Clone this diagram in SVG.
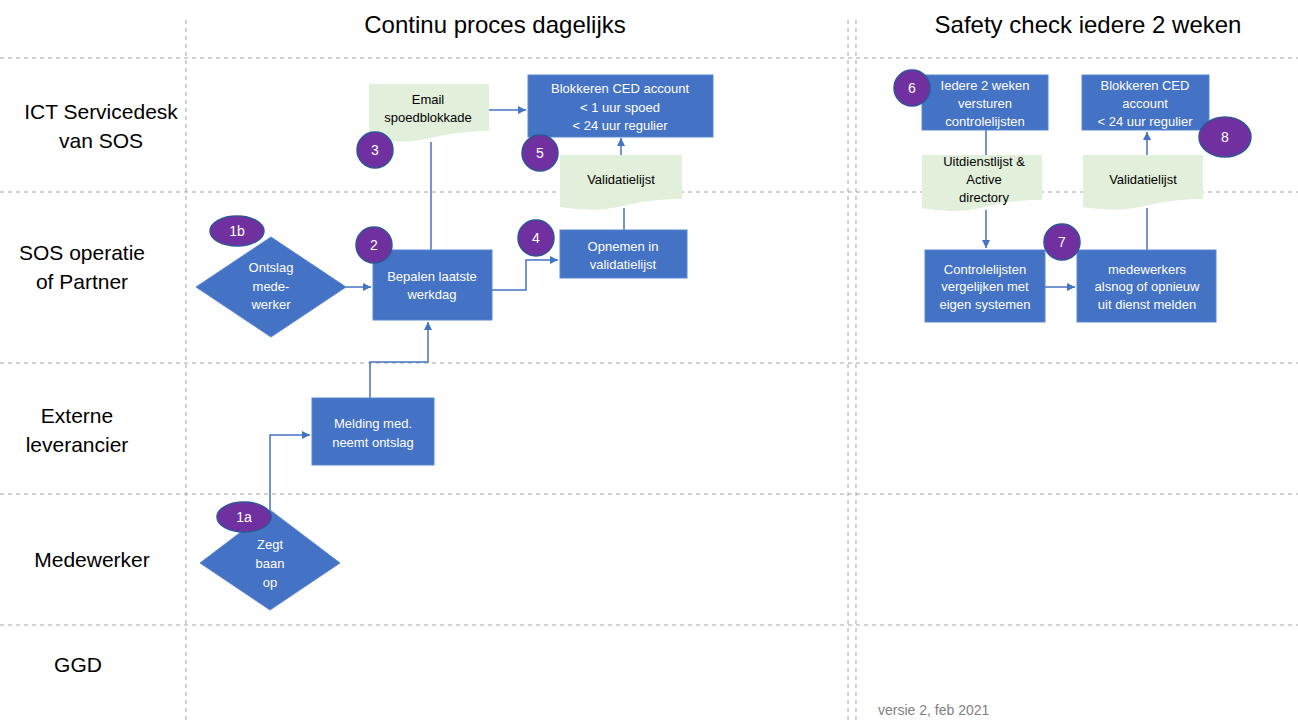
<svg xmlns="http://www.w3.org/2000/svg" width="1298" height="720" viewBox="0 0 1298 720">
<defs>
<marker id="ah" viewBox="0 0 10 10" refX="10" refY="5" markerWidth="8" markerHeight="8" markerUnits="userSpaceOnUse" orient="auto"><path d="M0,0 L10,5 L0,10 Z" fill="#4472c4"/></marker>
<style>
.grid{stroke:#a6a6a6;stroke-width:1;stroke-dasharray:4 4;fill:none}
.box{fill:#4472c4;stroke:#5b87d3;stroke-width:1}
.doc{fill:#e2efda;stroke:none}
.badge{fill:#7030a0;stroke:#2f5597;stroke-width:1.5}
.conn{stroke:#4472c4;stroke-width:1.5;fill:none}
.wt{font-family:"Liberation Sans",Arial,sans-serif;font-size:13px;fill:#fff;text-anchor:middle}
.bt{font-family:"Liberation Sans",Arial,sans-serif;font-size:13px;fill:#000;text-anchor:middle}
.lane{font-family:"Liberation Sans",Arial,sans-serif;font-size:21px;fill:#000;text-anchor:middle}
.title{font-family:"Liberation Sans",Arial,sans-serif;font-size:24px;fill:#000;text-anchor:middle}
.num{font-family:"Liberation Sans",Arial,sans-serif;font-size:14px;fill:#fff;text-anchor:middle}
</style>
</defs>
<rect width="1298" height="720" fill="#fff"/>
<g id="grid">
<line class="grid" x1="0" y1="58" x2="1298" y2="58"/>
<line class="grid" x1="0" y1="192" x2="1298" y2="192"/>
<line class="grid" x1="0" y1="363" x2="1298" y2="363"/>
<line class="grid" x1="0" y1="494" x2="1298" y2="494"/>
<line class="grid" x1="0" y1="625" x2="1298" y2="625"/>
<line class="grid" x1="186" y1="20" x2="186" y2="720"/>
<line class="grid" x1="848" y1="20" x2="848" y2="720"/>
<line class="grid" x1="856" y1="20" x2="856" y2="720"/>
</g>
<g id="titles">
<text class="title" x="495" y="33">Continu proces dagelijks</text>
<text class="title" x="1088" y="33">Safety check iedere 2 weken</text>
</g>
<g id="lanes">
<text class="lane" x="101" y="119">ICT Servicedesk</text>
<text class="lane" x="101" y="148">van SOS</text>
<text class="lane" x="82" y="260">SOS operatie</text>
<text class="lane" x="82" y="289">of Partner</text>
<text class="lane" x="77" y="423">Externe</text>
<text class="lane" x="77" y="452">leverancier</text>
<text class="lane" x="92" y="567">Medewerker</text>
<text class="lane" x="78" y="672">GGD</text>
</g>
<g id="connectors">
<line class="conn" x1="489" y1="110" x2="526" y2="110" marker-end="url(#ah)"/>
<line class="conn" x1="621" y1="157" x2="621" y2="138" marker-end="url(#ah)"/>
<line class="conn" x1="624" y1="208" x2="624" y2="230"/>
<line class="conn" x1="431" y1="250" x2="431" y2="142"/>
<polyline class="conn" points="492,290 526,290 526,260 558,260" marker-end="url(#ah)"/>
<line class="conn" x1="346" y1="287" x2="371" y2="287" marker-end="url(#ah)"/>
<polyline class="conn" points="370,398 370,362 428,362 428,322" marker-end="url(#ah)"/>
<polyline class="conn" points="270,512 270,435 310,435" marker-end="url(#ah)"/>
<line class="conn" x1="986" y1="130" x2="986" y2="157"/>
<line class="conn" x1="986" y1="210" x2="986" y2="248" marker-end="url(#ah)"/>
<line class="conn" x1="1045" y1="287" x2="1075" y2="287" marker-end="url(#ah)"/>
<line class="conn" x1="1147" y1="250" x2="1147" y2="208"/>
<line class="conn" x1="1147" y1="157" x2="1147" y2="132" marker-end="url(#ah)"/>
</g>
<g id="email">
<path class="doc" d="M369,84 H489 V131 C429,131 429,148 369,139 Z"/>
<text class="bt" x="428" y="104">Email</text>
<text class="bt" x="428" y="122">spoedblokkade</text>
</g>
<g id="blok1">
<rect class="box" x="528" y="75" width="185" height="62"/>
<text class="wt" x="620" y="93">Blokkeren CED account</text>
<text class="wt" x="620" y="112">&lt; 1 uur spoed</text>
<text class="wt" x="620" y="130">&lt; 24 uur regulier</text>
</g>
<g id="valid1">
<path class="doc" d="M560,155 H682 V199 C621,199 621,216 560,207 Z"/>
<text class="bt" x="621" y="184">Validatielijst</text>
</g>
<g id="opnemen">
<rect class="box" x="560" y="230" width="127" height="48"/>
<text class="wt" x="623" y="251">Opnemen in</text>
<text class="wt" x="623" y="269">validatielijst</text>
</g>
<g id="bepalen">
<rect class="box" x="373" y="250" width="119" height="70"/>
<text class="wt" x="432" y="281">Bepalen laatste</text>
<text class="wt" x="432" y="299">werkdag</text>
</g>
<g id="ontslag">
<polygon class="box" points="271,237 346,287 271,337 196,287"/>
<text class="wt" x="271" y="272">Ontslag</text>
<text class="wt" x="271" y="291">mede-</text>
<text class="wt" x="271" y="309">werker</text>
</g>
<g id="melding">
<rect class="box" x="312" y="398" width="122" height="67"/>
<text class="wt" x="373" y="428">Melding med.</text>
<text class="wt" x="373" y="447">neemt ontslag</text>
</g>
<g id="zegt">
<polygon class="box" points="270,510 340,563 270,610 200,563"/>
<text class="wt" x="270" y="549">Zegt</text>
<text class="wt" x="270" y="568">baan</text>
<text class="wt" x="270" y="587">op</text>
</g>
<g id="iedere">
<rect class="box" x="922" y="75" width="126" height="55"/>
<text class="wt" x="985" y="90">Iedere 2 weken</text>
<text class="wt" x="985" y="108">versturen</text>
<text class="wt" x="985" y="126">controlelijsten</text>
</g>
<g id="blok2">
<rect class="box" x="1082" y="75" width="127" height="55"/>
<text class="wt" x="1145" y="90">Blokkeren CED</text>
<text class="wt" x="1145" y="108">account</text>
<text class="wt" x="1145" y="126">&lt; 24 uur regulier</text>
</g>
<g id="uitdienst">
<path class="doc" d="M922,155 H1042 V200 C982,200 982,218 922,208 Z"/>
<text class="bt" x="984" y="166">Uitdienstlijst &amp;</text>
<text class="bt" x="984" y="184">Active</text>
<text class="bt" x="984" y="202">directory</text>
</g>
<g id="valid2">
<path class="doc" d="M1083,155 H1203 V199 C1143,199 1143,216 1083,207 Z"/>
<text class="bt" x="1143" y="184">Validatielijst</text>
</g>
<g id="controle">
<rect class="box" x="925" y="250" width="120" height="72"/>
<text class="wt" x="985" y="274">Controlelijsten</text>
<text class="wt" x="985" y="291">vergelijken met</text>
<text class="wt" x="985" y="309">eigen systemen</text>
</g>
<g id="medewerkers">
<rect class="box" x="1077" y="250" width="139" height="72"/>
<text class="wt" x="1147" y="274">medewerkers</text>
<text class="wt" x="1147" y="291">alsnog of opnieuw</text>
<text class="wt" x="1147" y="309">uit dienst melden</text>
</g>
<g id="badges">
<circle class="badge" cx="375" cy="150" r="18"/><text class="num" x="375" y="155">3</text>
<circle class="badge" cx="540" cy="153" r="18"/><text class="num" x="540" y="158">5</text>
<circle class="badge" cx="536" cy="238" r="18"/><text class="num" x="536" y="243">4</text>
<circle class="badge" cx="374" cy="245" r="18"/><text class="num" x="374" y="250">2</text>
<ellipse class="badge" cx="237" cy="231" rx="27" ry="15"/><text class="num" x="237" y="236">1b</text>
<ellipse class="badge" cx="244" cy="517" rx="27" ry="15"/><text class="num" x="244" y="522">1a</text>
<circle class="badge" cx="912" cy="88" r="18"/><text class="num" x="912" y="93">6</text>
<circle class="badge" cx="1062" cy="242" r="18"/><text class="num" x="1062" y="247">7</text>
<ellipse class="badge" cx="1225" cy="137" rx="26" ry="20"/><text class="num" x="1225" y="142">8</text>
</g>
<text x="878" y="715" style="font-family:'Liberation Sans',Arial,sans-serif;font-size:14px;fill:#7f7f7f">versie 2, feb 2021</text>
</svg>
